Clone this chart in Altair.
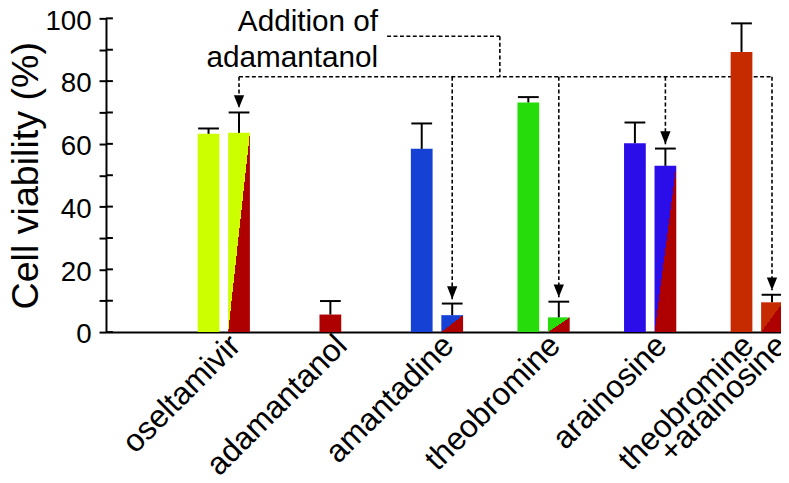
import json
import pandas as pd
import altair as alt

# ---------------- data ----------------
categories = ["oseltamivir", "adamantanol", "amantadine", "theobromine",
              "arainosine", "theobromine\n+arainosine"]
drug_colors = ["#CCFF00", "#AE0000", "#1541D5", "#26DC0B", "#2B0DEA", "#C62B00"]
adamantanol_color = "#AE0000"

alone_values = [63.2, None, 58.4, 73.2, 60.2, 89.3]
alone_errors = [1.7, None, 8.1, 1.7, 6.6, 9.1]
with_values = [63.5, 5.6, 5.4, 4.7, 53.0, 9.5]
with_errors = [6.5, 4.3, 3.7, 5.0, 5.5, 2.4]

y_ticks = list(range(0, 101, 10))
annotation_text = "Addition of\nadamantanol"

# annotation geometry in data units (group index, % viability)
LEVEL_Y = 81.4
BRACKET_Y = 94.3
JOIN_X = 2.59
BRACKET_X0 = 1.532
TEXT_X = 1.448
TEXT_Y = 96.0

# ---------------- style ----------------
FONT = "Liberation Sans"
PX_PER_UNIT = 107.7
BAR_OFFSET = 0.143
BAR_HALF = 0.102
CAP_HALF = 0.0975
ARROW_GAP = 1.4
ARROW_PATH = "M-0.4,-1L0.4,-1L0,0Z"
# horizontal shift (px) of each line of a two-line tick label
TWO_LINE_SHIFT = [-19.8, 13.5]

rows = []
for i, cat in enumerate(categories):
    both = alone_values[i] is not None and with_values[i] is not None
    if alone_values[i] is not None:
        rows.append(dict(group=i, cat=cat, slot=-1 if both else 0,
                         value=alone_values[i], err=alone_errors[i], split=False))
    if with_values[i] is not None:
        rows.append(dict(group=i, cat=cat, slot=1 if both else 0,
                         value=with_values[i], err=with_errors[i], split=both))
df = pd.DataFrame(rows)

# tick label positions: one label per text line
label_values, label_texts = [], []
for i, cat in enumerate(categories):
    lines = cat.split("\n")
    if len(lines) == 1:
        label_values.append(i)
        label_texts.append(lines[0])
    else:
        for k, line in enumerate(lines):
            label_values.append(round(i + TWO_LINE_SHIFT[k] / PX_PER_UNIT, 4))
            label_texts.append(line)
x_label_expr = (f"{json.dumps(label_texts)}[indexof({json.dumps(label_values)}, datum.value)]")

xscale = alt.Scale(domain=[-1.105, 5.2275], nice=False, zero=False)
yscale = alt.Scale(domain=[0, 100], nice=False, zero=True)

x_axis = alt.Axis(values=label_values, labelExpr=x_label_expr,
                  labelAngle=-45, labelAlign="right", labelBaseline="middle",
                  labelFontSize=32, labelFont=FONT, labelColor="black",
                  labelPadding=8, labelOffset=11, labelLimit=400,
                  labelFlush=False, labelOverlap=False, labelBound=False,
                  ticks=False, tickSize=0, domainColor="black", domainWidth=2,
                  grid=False, title="")
y_axis = alt.Axis(values=y_ticks, labelExpr="datum.value % 20 === 0 ? datum.label : ''",
                  tickSize=7, tickWidth=2, tickColor="black",
                  domainColor="black", domainWidth=2,
                  labelFontSize=28, labelFont=FONT, labelColor="black", labelPadding=8,
                  labelOffset=3, labelOverlap=False, labelFlush=False,
                  title="Cell viability (%)", titleFontSize=38, titleFont=FONT,
                  titleFontWeight="normal", titleColor="black", titlePadding=-1,
                  grid=False)


def X(field):
    return alt.X(field, scale=xscale, axis=x_axis)


def Y(field):
    return alt.Y(field, scale=yscale, axis=y_axis)


base = alt.Chart(df).transform_calculate(
    xc=f"datum.group + datum.slot * {BAR_OFFSET}"
).transform_calculate(
    xl=f"datum.xc - {BAR_HALF}",
    xr=f"datum.xc + {BAR_HALF}",
    capl=f"datum.xc - {CAP_HALF}",
    capr=f"datum.xc + {CAP_HALF}",
    top="datum.value + datum.err",
    level=str(LEVEL_Y),
).transform_calculate(
    tip=f"datum.top + {ARROW_GAP}"
)

dash = dict(color="black", strokeDash=[4, 2.5], strokeWidth=1.6)

# annotation lines (behind bars)
bracket_df = pd.DataFrame({"x": [BRACKET_X0, JOIN_X], "x2": [JOIN_X, JOIN_X],
                           "y": [BRACKET_Y, BRACKET_Y], "y2": [BRACKET_Y, LEVEL_Y]})
bracket = alt.Chart(bracket_df).mark_rule(**dash).encode(
    x=X("x:Q"), x2="x2:Q", y=Y("y:Q"), y2="y2:Q")

level_line = base.transform_filter("datum.split").transform_aggregate(
    x0="min(xc)", x1="max(xc)"
).transform_calculate(level=str(LEVEL_Y)).mark_rule(**dash).encode(
    x=X("x0:Q"), x2="x1:Q", y=Y("level:Q"))

drops = base.transform_filter("datum.split").mark_rule(**dash).encode(
    x=X("xc:Q"), y=Y("level:Q"), y2="tip:Q")

# bars
solid = base.transform_filter("!datum.split").mark_bar().encode(
    x=X("xl:Q"), x2="xr:Q", y=Y("value:Q"), y2=alt.datum(0),
    color=alt.Color("cat:N", scale=alt.Scale(domain=categories, range=drug_colors),
                    legend=None))

split_layers = []
for i in range(len(categories)):
    if alone_values[i] is None or with_values[i] is None:
        continue
    c = drug_colors[i]
    grad = alt.Gradient(gradient="linear", x1=0, y1=0, x2=1, y2=1, stops=[
        alt.GradientStop(color=c, offset=0),
        alt.GradientStop(color=c, offset=0.5),
        alt.GradientStop(color=adamantanol_color, offset=0.5),
        alt.GradientStop(color=adamantanol_color, offset=1)])
    split_layers.append(
        base.transform_filter(f"datum.split && datum.group == {i}")
        .mark_bar(color=grad)
        .encode(x=X("xl:Q"), x2="xr:Q", y=Y("value:Q"), y2=alt.datum(0)))

# error bars
stems = base.mark_rule(color="black", strokeWidth=2).encode(
    x=X("xc:Q"), y=Y("value:Q"), y2="top:Q")
caps = base.mark_rule(color="black", strokeWidth=2).encode(
    x=X("capl:Q"), x2="capr:Q", y=Y("top:Q"))

arrows = base.transform_filter("datum.split").mark_point(
    shape=ARROW_PATH, filled=True, size=676, color="black", opacity=1, strokeWidth=0
).encode(x=X("xc:Q"), y=Y("tip:Q"))

text = alt.Chart(pd.DataFrame({"t": [annotation_text], "x": [TEXT_X], "y": [TEXT_Y]})).mark_text(
    align="right", baseline="alphabetic", fontSize=30, lineHeight=36, lineBreak="\n",
    font=FONT, color="black"
).encode(x=X("x:Q"), y=Y("y:Q"), text="t:N")

inner_ticks = alt.Chart(pd.DataFrame({"tick": y_ticks})).mark_rule(
    color="black", strokeWidth=2
).encode(y=Y("tick:Q"), x=alt.value(0), x2=alt.value(7))

chart = alt.layer(
    bracket, level_line, drops, solid, *split_layers, stems, caps, arrows, text, inner_ticks
).properties(
    width=682, height=317,
    autosize=alt.AutoSizeParams(type="none"),
    padding={"left": 99, "top": 8, "right": 0, "bottom": 150},
    background="white",
).configure_view(strokeWidth=0)

chart.save("out.html", embed_options={"renderer": "svg", "actions": False})
